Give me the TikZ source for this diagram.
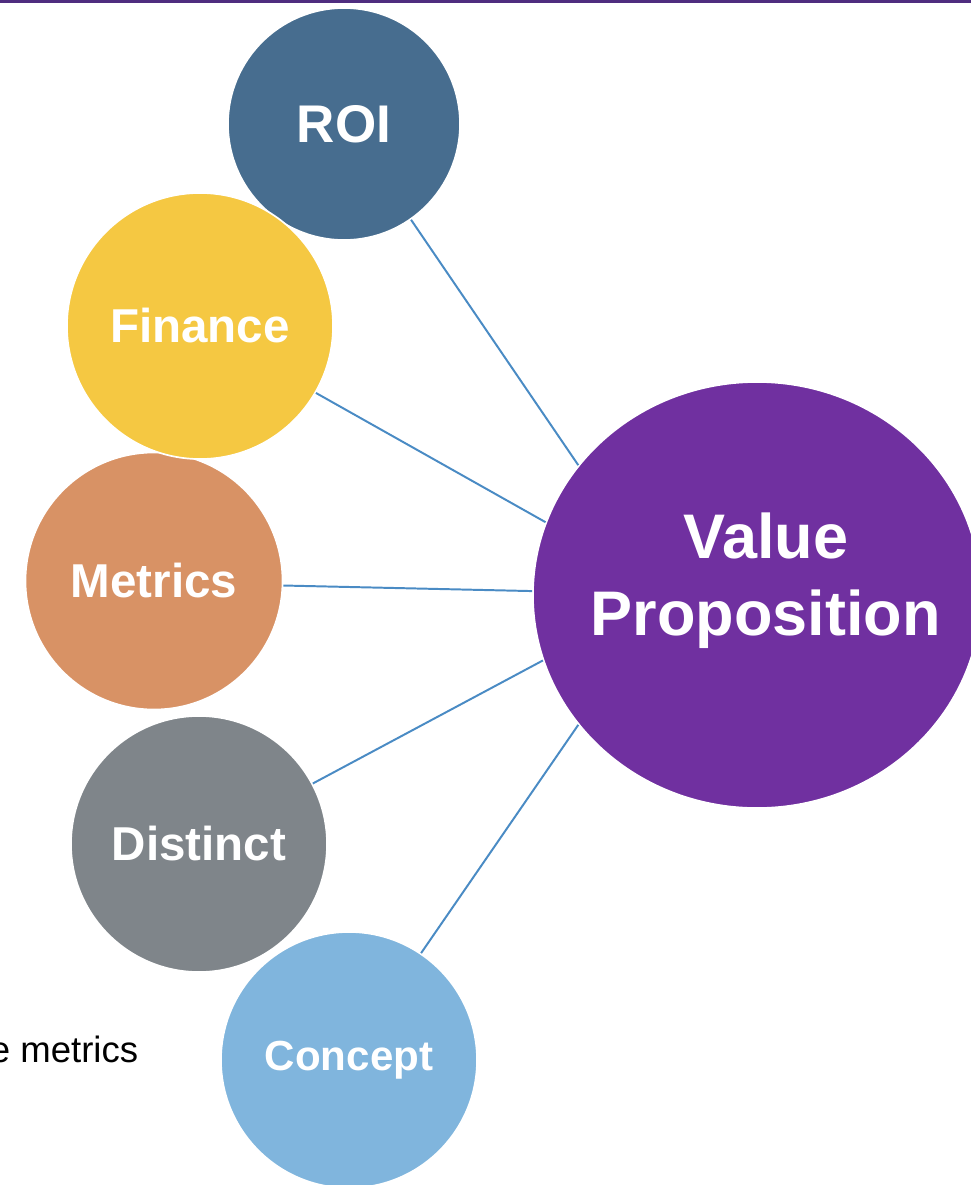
\documentclass[tikz,border=0pt]{standalone}
\usepackage{fontspec}
\setmainfont{Liberation Sans}
\usepackage{tikz}
\usetikzlibrary{positioning}
\usetikzlibrary{shapes.geometric}

\definecolor{roiblue}{HTML}{476D8F}
\definecolor{financeyellow}{HTML}{F5C842}
\definecolor{metricsorange}{HTML}{D89265}
\definecolor{distinctgrey}{HTML}{7F858A}
\definecolor{conceptblue}{HTML}{80B5DD}
\definecolor{vppurple}{HTML}{7030A0}
\definecolor{linkblue}{HTML}{4A8BC4}
\definecolor{topline}{HTML}{4F2D7F}

\begin{document}
\begin{tikzpicture}[x=0.025cm,y=-0.025cm,
        bubble/.style={circle,draw=white,line width=1.2pt,text=white,inner sep=0pt,
            font=\bfseries\fontsize{33.8}{40}\selectfont},
        link/.style={draw=linkblue,line width=1.4pt}]
        \useasboundingbox (0,0) rectangle (971,1185);
        \clip (0,0) rectangle (971,1185);

        \fill[topline] (0,0) rectangle (971,2.5);

        % satellites
        \node[bubble,fill=roiblue,minimum size=5.8cm,font=\bfseries\fontsize{37.7}{44}\selectfont] (roi) at (344,124) {ROI};
        \node[bubble,fill=metricsorange,minimum size=6.425cm] (metrics) at (154,581) {Metrics};
        \node[bubble,fill=financeyellow,minimum size=6.65cm] (finance) at (200,326) {Finance};
        \node[bubble,fill=distinctgrey,minimum size=6.4cm] (distinct) at (199,844) {Distinct};
        \node[bubble,fill=conceptblue,minimum size=6.4cm,font=\bfseries\fontsize{29.9}{36}\selectfont] (concept) at (349,1060) {Concept};

        % hub
        \node[ellipse,draw=white,line width=1.2pt,fill=vppurple,inner sep=0pt,
            minimum width=11.2cm,minimum height=10.65cm,
            label={[text=white,align=center,xshift=0.22cm,yshift=0.35cm,
                font=\bfseries\fontsize{44.8}{54.8}\selectfont]center:Value\\Proposition}] (vp) at (757,595) {};

        \foreach \n/\a/\b in {roi/-55/144,finance/-30/161.5,metrics/-2/179,distinct/28/197,concept/56/216.5}
            \draw[link] (\n.\a) -- (vp.\b);

        \node[anchor=base east,inner sep=0pt,font=\fontsize{26}{30}\selectfont] (note) at (138.5,1062) {e metrics};
    \end{tikzpicture}
\end{document}
